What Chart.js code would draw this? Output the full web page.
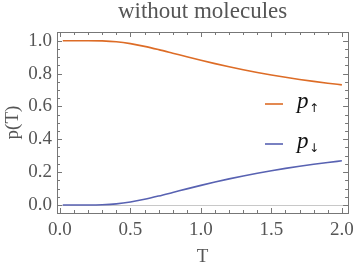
<!DOCTYPE html>
<html>
<head>
<meta charset="utf-8">
<script src="https://cdn.jsdelivr.net/npm/chart.js"></script>
<style>html,body{margin:0;padding:0;background:#fff}</style>
</head>
<body>
<canvas id="chart" width="360" height="268"></canvas>
<script>
// values
const temps = [0.02, 0.1, 0.2, 0.3, 0.4, 0.5, 0.6, 0.7, 0.8, 0.9, 1.0,
	1.1, 1.2, 1.3, 1.4, 1.5, 1.6, 1.7, 1.8, 1.9, 2.0];
const pUp = [1.0, 1.0, 1.0, 0.9987, 0.9933, 0.982, 0.9656, 0.9457, 0.9241, 0.9022, 0.8808,
	0.8604, 0.8411, 0.8233, 0.8067, 0.7914, 0.7773, 0.7643, 0.7523, 0.7413, 0.7311];
const pDown = [0.0, 0.0, 0.0, 0.0013, 0.0067, 0.018, 0.0344, 0.0543, 0.0759, 0.0978, 0.1192,
	0.1396, 0.1589, 0.1767, 0.1933, 0.2086, 0.2227, 0.2357, 0.2477, 0.2587, 0.2689];
const xTicks = [0, 0.5, 1.0, 1.5, 2.0];
const yTicks = [0, 0.2, 0.4, 0.6, 0.8, 1.0];
const seriesLabels = ["\u2191", "\u2193"];

const ORANGE = "rgb(221, 108, 38)";
const BLUE = "rgb(88, 98, 178)";
const SERIF = "'Liberation Serif', 'DejaVu Serif', serif";
const GRAY_TEXT = "#555";

function minorTicks(min, max, step) {
	const out = [];
	for (let v = min; v <= max + 1e-9; v += step) out.push(Math.round(v * 1000) / 1000);
	return out;
}

const framePlugin = {
	id: "frame",
	beforeDatasetsDraw(chart) {
		const { ctx, chartArea: a, scales } = chart;
		const y0 = scales.y.getPixelForValue(0);
		ctx.save();
		ctx.strokeStyle = "#c8c8c8";
		ctx.lineWidth = 1;
		ctx.beginPath();
		ctx.moveTo(a.left, Math.round(y0) + 0.5);
		ctx.lineTo(a.right, Math.round(y0) + 0.5);
		ctx.stroke();
		ctx.restore();
	},
	afterDraw(chart) {
		const { ctx, chartArea: a, scales } = chart;
		ctx.save();
		ctx.strokeStyle = "#777";
		ctx.lineWidth = 1;
		ctx.strokeRect(Math.round(a.left) + 0.5, Math.round(a.top) + 0.5,
			Math.round(a.right - a.left), Math.round(a.bottom - a.top));

		ctx.beginPath();
		for (const v of minorTicks(0, 2, 0.1)) {
			const major = xTicks.some((t) => Math.abs(t - v) < 1e-6);
			const len = major ? 5 : 3;
			const x = Math.round(scales.x.getPixelForValue(v)) + 0.5;
			ctx.moveTo(x, a.bottom); ctx.lineTo(x, a.bottom - len);
			ctx.moveTo(x, a.top); ctx.lineTo(x, a.top + len);
		}
		for (const v of minorTicks(0, 1, 0.05)) {
			const major = yTicks.some((t) => Math.abs(t - v) < 1e-6);
			const len = major ? 5 : 3;
			const y = Math.round(scales.y.getPixelForValue(v)) + 0.5;
			ctx.moveTo(a.left, y); ctx.lineTo(a.left + len, y);
			ctx.moveTo(a.right, y); ctx.lineTo(a.right - len, y);
		}
		ctx.stroke();

		// legend inside the plot
		const colors = [ORANGE, BLUE];
		const rows = [104, 144];
		rows.forEach((y, i) => {
			ctx.strokeStyle = colors[i];
			ctx.lineWidth = 1.6;
			ctx.beginPath();
			ctx.moveTo(265, y);
			ctx.lineTo(283, y);
			ctx.stroke();
			ctx.fillStyle = "#111";
			ctx.textBaseline = "alphabetic";
			ctx.font = "italic 23px " + SERIF;
			ctx.fillText("p", 297, y + 4);
			ctx.font = "12px 'DejaVu Sans', sans-serif";
			ctx.fillText(seriesLabels[i], 309, y + 8);
		});
		ctx.restore();
	},
};

const tickFont = { family: SERIF, size: 19 };

new Chart(document.getElementById("chart").getContext("2d"), {
	type: "line",
	data: {
		datasets: [
			{
				label: "p\u2191",
				data: temps.map((t, i) => ({ x: t, y: pUp[i] })),
				borderColor: ORANGE,
				borderWidth: 1.6,
				pointRadius: 0,
				cubicInterpolationMode: "monotone",
			},
			{
				label: "p\u2193",
				data: temps.map((t, i) => ({ x: t, y: pDown[i] })),
				borderColor: BLUE,
				borderWidth: 1.6,
				pointRadius: 0,
				cubicInterpolationMode: "monotone",
			},
		],
	},
	options: {
		responsive: false,
		animation: false,
		layout: { padding: { right: 8 } },
		plugins: {
			legend: { display: false },
			tooltip: { enabled: false },
			title: {
				display: true,
				fullSize: false,
				text: "without molecules",
				color: GRAY_TEXT,
				font: { family: SERIF, size: 23, weight: "normal", lineHeight: 1 },
				padding: { top: 0, bottom: 9 },
			},
		},
		scales: {
			x: {
				type: "linear",
				min: -0.021,
				max: 2.044,
				afterBuildTicks: (s) => { s.ticks = xTicks.map((v) => ({ value: v })); },
				afterFit: (s) => { s.height = 55; },
				grid: { display: false, drawTicks: false },
				border: { display: false },
				ticks: {
					padding: 6,
					color: GRAY_TEXT,
					font: tickFont,
					maxRotation: 0,
					autoSkip: false,
					callback: (v) => Number(v).toFixed(1),
				},
				title: {
					display: true,
					text: "T",
					color: GRAY_TEXT,
					font: tickFont,
					padding: { top: 0, bottom: 0 },
				},
			},
			y: {
				min: -0.049,
				max: 1.053,
				afterBuildTicks: (s) => { s.ticks = yTicks.map((v) => ({ value: v })); },
				afterFit: (s) => { s.width = 57; },
				grid: { display: false, drawTicks: false },
				border: { display: false },
				ticks: {
					padding: 5,
					color: GRAY_TEXT,
					font: tickFont,
					autoSkip: false,
					callback: (v) => Number(v).toFixed(1),
				},
				title: {
					display: true,
					text: "p(T)",
					color: GRAY_TEXT,
					font: tickFont,
					padding: { top: 2, bottom: 0 },
				},
			},
		},
	},
	plugins: [framePlugin],
});
</script>
</body>
</html>
